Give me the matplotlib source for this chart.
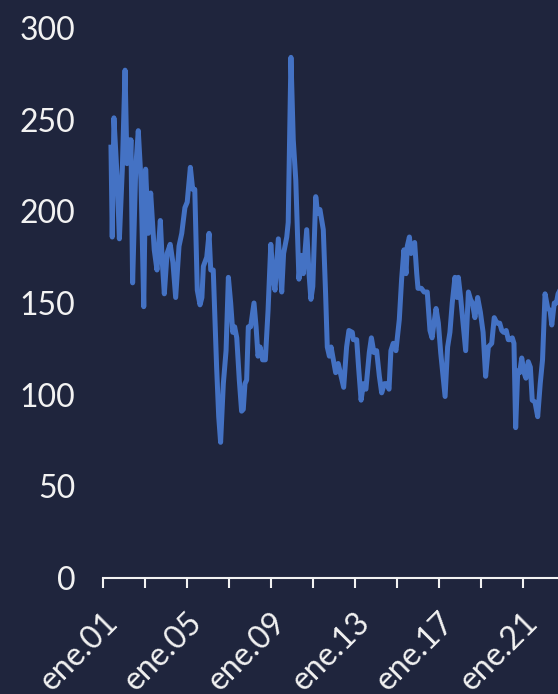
import numpy as np
import matplotlib
matplotlib.use("Agg")
import matplotlib.pyplot as plt

# series (decimal years since 2001, values)
years = [0.38, 0.44, 0.52, 0.68, 0.78, 0.92, 1.05, 1.14, 1.24, 1.29, 1.33, 1.41,
         1.56, 1.68, 1.81, 1.94, 2.03, 2.16, 2.27, 2.44, 2.57, 2.73, 2.82, 2.92,
         3.05, 3.20, 3.33, 3.46, 3.62, 3.75, 3.90, 4.01, 4.16, 4.27, 4.37, 4.49,
         4.62, 4.71, 4.78, 4.94, 5.05, 5.13, 5.25, 5.41, 5.51, 5.60, 5.73, 5.86,
         5.97, 6.08, 6.18, 6.27, 6.37, 6.49, 6.60, 6.68, 6.76, 6.84, 6.92, 7.03,
         7.19, 7.29, 7.38, 7.48, 7.60, 7.73, 7.86, 7.99, 8.11, 8.19, 8.35, 8.51,
         8.60, 8.75, 8.82, 8.95, 9.06, 9.18, 9.33, 9.43, 9.54, 9.70, 9.81, 9.90,
         9.99, 10.13, 10.22, 10.33, 10.49, 10.60, 10.68, 10.78, 10.86, 10.97,
         11.08, 11.20, 11.30, 11.46, 11.60, 11.71, 11.87, 11.92, 12.08, 12.17,
         12.29, 12.40, 12.52, 12.68, 12.78, 12.90, 13.03, 13.16, 13.27, 13.40,
         13.51, 13.62, 13.71, 13.82, 13.95, 14.11, 14.22, 14.33, 14.43, 14.49,
         14.59, 14.67, 14.75, 14.84, 14.94, 15.00, 15.16, 15.29, 15.44, 15.57,
         15.67, 15.76, 15.86, 15.97, 16.08, 16.29, 16.41, 16.52, 16.63, 16.76,
         16.86, 16.92, 17.03, 17.16, 17.27, 17.40, 17.50, 17.59, 17.71, 17.84,
         17.97, 18.10, 18.22, 18.35, 18.51, 18.63, 18.76, 18.89, 18.99, 19.08,
         19.20, 19.30, 19.40, 19.49, 19.57, 19.65, 19.75, 19.84, 19.94, 20.05,
         20.14, 20.25, 20.35, 20.44, 20.57, 20.70, 20.82, 20.93, 21.05, 21.18,
         21.29, 21.37, 21.49, 21.59, 21.67, 21.90]
values = [235, 186, 251, 217, 185, 223, 277, 226, 239, 227, 239, 161,
          224, 244, 217, 148, 223, 188, 210, 179, 168, 195, 173, 155,
          177, 182, 172, 153, 181, 188, 202, 205, 224, 212, 212, 157,
          149, 153, 170, 175, 188, 168, 168, 115, 88, 74, 106, 124,
          164, 150, 134, 137, 131, 108, 91, 92, 106, 108, 137, 137,
          150, 137, 121, 126, 119, 119, 146, 182, 163, 157, 185, 156,
          177, 186, 194, 284, 239, 217, 163, 176, 166, 190, 166, 152,
          159, 208, 199, 201, 190, 155, 126, 121, 126, 119,
          112, 117, 112, 104, 126, 135, 134, 130, 130, 115,
          97, 106, 103, 123, 131, 123, 124, 110, 101, 106,
          106, 103, 124, 128, 124, 141, 163, 179, 166, 181,
          186, 177, 178, 183, 166, 158, 158, 156, 156, 135,
          131, 139, 147, 139, 123, 99, 126, 134, 150, 164,
          153, 164, 153, 137, 124, 156, 152, 150, 142, 153,
          145, 134, 110, 126, 128, 142, 139, 139, 135, 134,
          135, 130, 130, 131, 128, 82, 113, 112, 120, 112,
          109, 118, 115, 97, 96, 88, 106, 119, 155, 147,
          146, 138, 150, 150, 155, 160]

tick_years = [2001, 2003, 2005, 2007, 2009, 2011, 2013, 2015, 2017, 2019, 2021]
tick_labels = ["ene.01", "", "ene.05", "", "ene.09", "", "ene.13", "",
               "ene.17", "", "ene.21"]
y_ticks = [0, 50, 100, 150, 200, 250, 300]

bg = '#1f253d'
fg = '#f2f2f2'
line_col = '#4472c4'

plt.rcParams['font.family'] = ['Lato', 'DejaVu Sans']

fig = plt.figure(figsize=(5.58, 6.94), dpi=100)
fig.patch.set_facecolor(bg)
ax = fig.add_axes([103 / 558, 116 / 694, 1 - 103 / 558, 550 / 694])
ax.set_facecolor(bg)

x = 2001 + np.array(years)
ax.plot(x, values, color=line_col, linewidth=3.6, solid_joinstyle='round')

ax.set_xlim(2001, 2001 + (558 - 103) / 21)
ax.set_ylim(0, 300)

for s in ['top', 'right', 'left']:
    ax.spines[s].set_visible(False)
ax.spines['bottom'].set_color(fg)
ax.spines['bottom'].set_linewidth(1.5)

ax.set_yticks(y_ticks)
ax.tick_params(axis='y', length=0, pad=20, labelsize=23, colors=fg)

ax.set_xticks(tick_years)
ax.set_xticklabels(tick_labels, rotation=45, ha='right', va='top',
                   rotation_mode='anchor')
ax.tick_params(axis='x', direction='out', length=7, width=1.5, color=fg,
               labelcolor=fg, labelsize=23, pad=14)

fig.savefig('out.png', dpi=100, facecolor=bg)
